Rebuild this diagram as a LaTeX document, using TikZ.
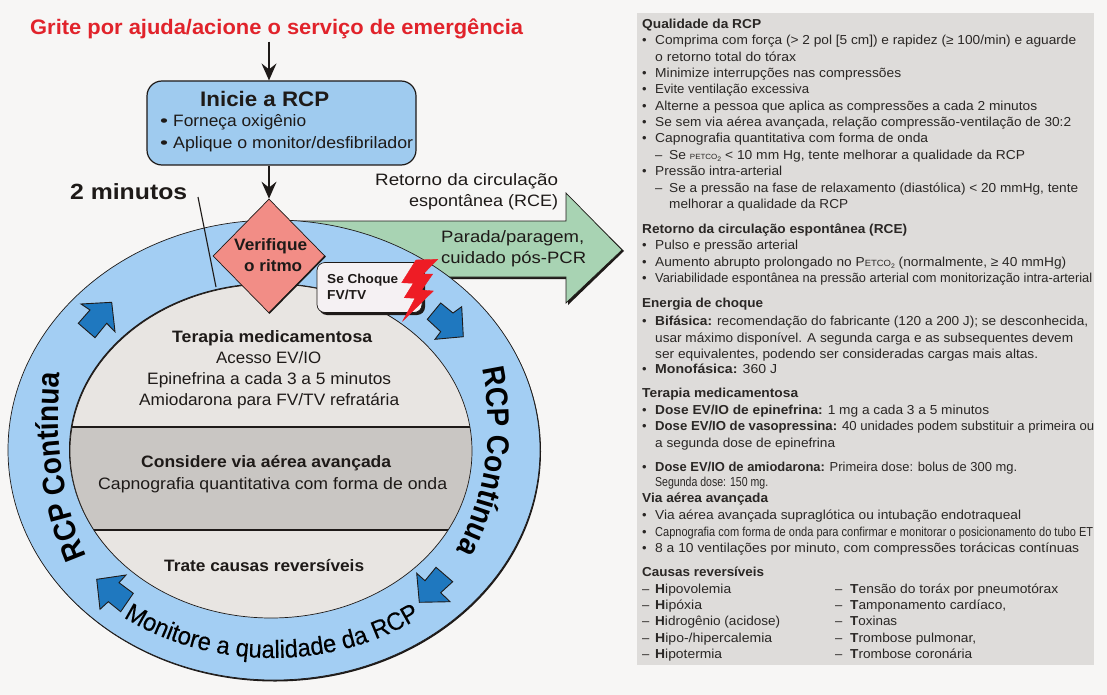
\documentclass[tikz,border=0pt]{standalone}
\usepackage{fontspec}
\usepackage{graphicx}
\setmainfont{Liberation Sans}
\newfontfamily\ringfam[FakeStretch=0.9]{Liberation Sans Bold}
\newfontfamily\ringfamb[FakeStretch=0.95,FakeBold=0.2]{Liberation Sans}
\usetikzlibrary{shapes.geometric,arrows.meta,decorations.text}
\definecolor{bgc}{HTML}{F7F6F5}
\definecolor{panelc}{HTML}{DEDCDA}
\definecolor{ringc}{HTML}{A3CEF3}
\definecolor{boxc}{HTML}{9FCBEF}
\definecolor{greenc}{HTML}{A8D3B3}
\definecolor{lightc}{HTML}{E8E5E2}
\definecolor{darkc}{HTML}{C9C6C3}
\definecolor{diac}{HTML}{F28D86}
\definecolor{arrc}{HTML}{1F78BF}
\definecolor{redc}{HTML}{E1232B}
\definecolor{inkc}{HTML}{1E1A18}
\definecolor{ptxt}{HTML}{2A2725}
\definecolor{shockc}{HTML}{F5F1F3}
\definecolor{boltc}{HTML}{EE1C25}
\newsavebox\fbx
\newcount\tn
\newcommand\fitw[2]{\sbox\fbx{#2}\pgfmathsetmacro\rr{(#1)/\wd\fbx}\scalebox{\rr}[1]{\usebox\fbx}}
\newcommand\ringf{\fontsize{31}{31}\selectfont\ringfam}
\newcommand\ringg{\fontsize{25}{25}\selectfont\ringfamb}
\newcommand\lsub[1]{\raisebox{-2pt}{\fontsize{6.5}{6.5}\selectfont #1}}
\tikzset{
  x=1pt,y=-1pt,
  txt/.style={inner sep=0pt,anchor=base west,text=inkc},
  panel/.style={txt,text=ptxt,font=\fontsize{13}{13}\selectfont,yshift=-4.5pt},
  midt/.style={txt,font=\fontsize{16.5}{16.5}\selectfont,yshift=-5.8pt},
  midb/.style={txt,font=\fontsize{16.5}{16.5}\selectfont\bfseries,yshift=-5.8pt},
  blue arrow/.style={fill=arrc,draw=inkc,line width=0.9pt,line join=miter},
  conn/.style={draw=inkc,line width=1.1pt,-{Stealth[length=17pt,width=15pt,inset=6pt]}},
}
\newcommand\lft[5]{\global\advance\tn by 1 \node[#1] (t\the\tn) at (#2,#4) {\fitw{#3-#2}{#5}};}
\newcommand\pnl[4]{\lft{panel}{#1}{#2}{#3}{#4}}
\newcommand\pbl[3]{\global\advance\tn by 1 \node[panel] (t\the\tn) at (642,#2) {•};\pnl{655}{#1}{#2}{#3}}
\newcommand\pds[5]{\global\advance\tn by 1 \node[panel] (t\the\tn) at (#1,#4) {–};\pnl{#2}{#3}{#4}{#5}}
\begin{document}
\begin{tikzpicture}
\useasboundingbox (0,0) rectangle (1107,695);
\fill[bgc] (0,0) rectangle (1107,695);
\fill[panelc] (637,13) rectangle (1094,665);
% green arrow
\fill[inkc] (285,223) -- (567,223) -- (567,195) -- (624,251) -- (568,305) -- (568,279) -- (285,279) -- cycle;
\draw[fill=greenc,draw=inkc,line width=0.7pt] (285,221) -- (566,221) -- (566,193) -- (622,250) -- (566,303) -- (566,277) -- (285,277) -- cycle;
% ring
\fill[inkc] (275,451.5) ellipse [x radius=266pt,y radius=230pt];
\draw[fill=ringc,draw=inkc,line width=0.7pt] (274,450) ellipse [x radius=266pt,y radius=230pt];
\fill[inkc] (270,450) ellipse [x radius=201pt,y radius=167pt];
\begin{scope}
  \clip (271,451) ellipse [x radius=201pt,y radius=167pt];
  \fill[lightc] (60,270) rectangle (480,625);
  \fill[darkc] (60,427) rectangle (480,530);
  \draw[inkc,line width=1.3pt] (60,427) -- (480,427) (60,530) -- (480,530);
\end{scope}
\draw[inkc,line width=0.7pt] (271,451) ellipse [x radius=201pt,y radius=167pt];
% ring text
\path[decorate,decoration={text along path,text align={center},text={|\ringf|RCP Contínua}}]
  plot[domain=140:198,samples=80] ({272+214*cos(\x)},{415+284*sin(\x)});
\path[decorate,decoration={text along path,text align={center},text={|\ringf|RCP Contínua}}]
  plot[domain=-25:43,samples=80] ({272+216*cos(\x)},{425+240*sin(\x)});
\path[decorate,decoration={text along path,text align={center},text={|\ringg|Monitore a qualidade da RCP}}]
  plot[domain=135:45,samples=80] ({272+250*cos(\x)},{450+208*sin(\x)});
% top flow
\node[rectangle,rounded corners=15pt,draw=inkc,line width=1.2pt,fill=boxc,minimum width=269pt,minimum height=84pt,inner sep=0pt] (box) at (281.5,123) {};
\node[diamond,fill=diac,draw=inkc,line width=0.7pt,minimum width=112pt,minimum height=114pt,inner sep=0pt] (dia) at (269,256) {};
\draw[inkc,line width=1.6pt] (dia.east) -- (dia.south);
\node[txt,anchor=base west,text=redc,font=\fontsize{21}{21}\selectfont\bfseries] (title) at (30,35) {\fitw{493}{Grite por ajuda/acione o serviço de emergência}};
\draw[conn,shorten <=2pt] (title.south -| dia.north) -- (box.north -| dia.north);
\draw[conn] (box.south -| dia.north) -- (dia.north);
% two minutes leader
\coordinate (m1) at (198,197);
\coordinate (m2) at (216,287);
\draw[inkc,line width=1.1pt] (m1) -- (m2);
% shock box
\fill[inkc,rounded corners=8pt] (320,266) -- (425,266) -- (425,315) -- (319,315) -- cycle;
\node[rectangle,rounded corners=8pt,draw=inkc,line width=0.7pt,fill=shockc,minimum width=105pt,minimum height=50pt,inner sep=0pt] (shock) at (369.5,287.5) {};
\draw[fill=boltc,draw=boltc,line width=0.4pt] (437.7,259.3) -- (416,260) -- (401.7,282.7) -- (413.3,283.3) -- (404.3,297.7) -- (415,298.3) -- (402.7,321) -- (433.3,291) -- (421.7,290) -- (432.7,274) -- (423.3,274) -- cycle;
% blue arrows
\draw[blue arrow] (111.7,302.3) -- (81,304) -- (90,310) -- (78.3,323.3) -- (95,337.7) -- (106.7,323.3) -- (115,331.7) -- cycle;
\draw[blue arrow] (463.3,336.7) -- (461.7,306.7) -- (453,313) -- (440.7,303) -- (427.3,319.3) -- (440.7,331.7) -- (435,339.3) -- cycle;
\draw[blue arrow] (419.3,602.3) -- (416.7,573.3) -- (425,580.7) -- (436,567.3) -- (452.7,581.7) -- (440.7,592.7) -- (450,601.7) -- cycle;
\draw[blue arrow] (96.7,579.3) -- (100,609.3) -- (108.3,601.7) -- (120.7,611.7) -- (133.3,593.3) -- (119,582.7) -- (126,575) -- cycle;
% left texts
\lft{txt,font=\fontsize{21}{21}\selectfont\bfseries}{200}{329}{107}{Inicie a RCP}
\lft{midt}{160}{168}{121}{•}
\lft{midt}{173}{306}{121}{Forneça oxigênio}
\lft{midt}{160}{168}{143}{•}
\lft{midt}{173}{413}{143}{Aplique o monitor/desfibrilador}
\lft{txt,font=\fontsize{22}{22}\selectfont\bfseries}{70}{187}{199}{2 minutos}
\lft{midt}{375}{558}{180}{Retorno da circulação}
\lft{midt}{409}{558}{201}{espontânea (RCE)}
\lft{midt}{441}{584}{237}{Parada/paragem,}
\lft{midt}{441}{586}{258}{cuidado pós-PCR}
\lft{midb}{234}{307}{245}{Verifique}
\lft{midb}{244}{302}{266}{o ritmo}
\lft{txt,font=\fontsize{13}{13}\selectfont\bfseries,yshift=-4.5pt}{327}{398}{279}{Se Choque}
\lft{txt,font=\fontsize{13}{13}\selectfont\bfseries,yshift=-4.5pt}{327}{366}{295}{FV/TV}
\lft{midb}{172}{372}{337}{Terapia medicamentosa}
\lft{midt}{216}{321}{358}{Acesso EV/IO}
\lft{midt}{147}{391}{379}{Epinefrina a cada 3 a 5 minutos}
\lft{midt}{139}{399}{400}{Amiodarona para FV/TV refratária}
\lft{midb}{141}{391}{462}{Considere via aérea avançada}
\lft{midt}{98}{447}{484}{Capnografia quantitativa com forma de onda}
\lft{midb}{164}{364}{566}{Trate causas reversíveis}
% panel
\pnl{642}{761}{24}{\bfseries Qualidade da RCP}
\pbl{1076}{40}{Comprima com força (> 2 pol [5 cm]) e rapidez (≥ 100/min) e aguarde}
\pnl{655}{796}{57}{o retorno total do tórax}
\pbl{901}{73}{Minimize interrupções nas compressões}
\pbl{809}{89}{Evite ventilação excessiva}
\pbl{1037}{106}{Alterne a pessoa que aplica as compressões a cada 2 minutos}
\pbl{1071}{122}{Se sem via aérea avançada, relação compressão-ventilação de 30:2}
\pbl{928}{138}{Capnografia quantitativa com forma de onda}
\pds{655}{669}{1025}{155}{Se {\fontsize{7.5}{7.5}\selectfont PETCO}\lsub{2} < 10 mm Hg, tente melhorar a qualidade da RCP}
\pbl{782}{171}{Pressão intra-arterial}
\pds{655}{669}{1078}{188}{Se a pressão na fase de relaxamento (diastólica) < 20 mmHg, tente}
\pnl{669}{848}{204}{melhorar a qualidade da RCP}
\pnl{642}{907}{229}{\bfseries Retorno da circulação espontânea (RCE)}
\pbl{798}{245}{Pulso e pressão arterial}
\pbl{1066}{262}{Aumento abrupto prolongado no P{\fontsize{9}{9}\selectfont ETCO}\lsub{2} (normalmente, ≥ 40 mmHg)}
\pbl{1092}{278}{Variabilidade espontânea na pressão arterial com monitorização intra-arterial}
\pnl{642}{763}{303}{\bfseries Energia de choque}
\pbl{1088}{321}{\textbf{Bifásica:} recomendação do fabricante (120 a 200 J); se desconhecida,}
\pnl{655}{1073}{338}{usar máximo disponível. A segunda carga e as subsequentes devem}
\pnl{655}{1038}{354}{ser equivalentes, podendo ser consideradas cargas mais altas.}
\pbl{777}{369}{\textbf{Monofásica:} 360 J}
\pnl{642}{798}{393}{\bfseries Terapia medicamentosa}
\pbl{989}{410}{\textbf{Dose EV/IO de epinefrina:} 1 mg a cada 3 a 5 minutos}
\pbl{1094}{426}{\textbf{Dose EV/IO de vasopressina:} 40 unidades podem substituir a primeira ou}
\pnl{655}{835}{443}{a segunda dose de epinefrina}
\pbl{1017}{467}{\textbf{Dose EV/IO de amiodarona:} Primeira dose: bolus de 300 mg.}
\pnl{655}{768}{482}{Segunda dose: 150 mg.}
\pnl{642}{768}{498}{\bfseries Via aérea avançada}
\pbl{1021}{515}{Via aérea avançada supraglótica ou intubação endotraqueal}
\pbl{1093}{532}{Capnografia com forma de onda para confirmar e monitorar o posicionamento do tubo ET}
\pbl{1079}{548}{8 a 10 ventilações por minuto, com compressões torácicas contínuas}
\pnl{642}{764}{572}{\bfseries Causas reversíveis}
\pds{642}{655}{731}{589}{\textbf{H}ipovolemia}
\pds{642}{655}{702}{605}{\textbf{H}ipóxia}
\pds{642}{655}{780}{621}{\textbf{H}idrogênio (acidose)}
\pds{642}{655}{772}{638}{\textbf{H}ipo-/hipercalemia}
\pds{642}{655}{722}{654}{\textbf{H}ipotermia}
\pds{835}{850}{1058}{589}{\textbf{T}ensão do toráx por pneumotórax}
\pds{835}{850}{1006}{605}{\textbf{T}amponamento cardíaco,}
\pds{835}{850}{897}{621}{\textbf{T}oxinas}
\pds{835}{850}{976}{638}{\textbf{T}rombose pulmonar,}
\pds{835}{850}{972}{654}{\textbf{T}rombose coronária}
\end{tikzpicture}
\end{document}
